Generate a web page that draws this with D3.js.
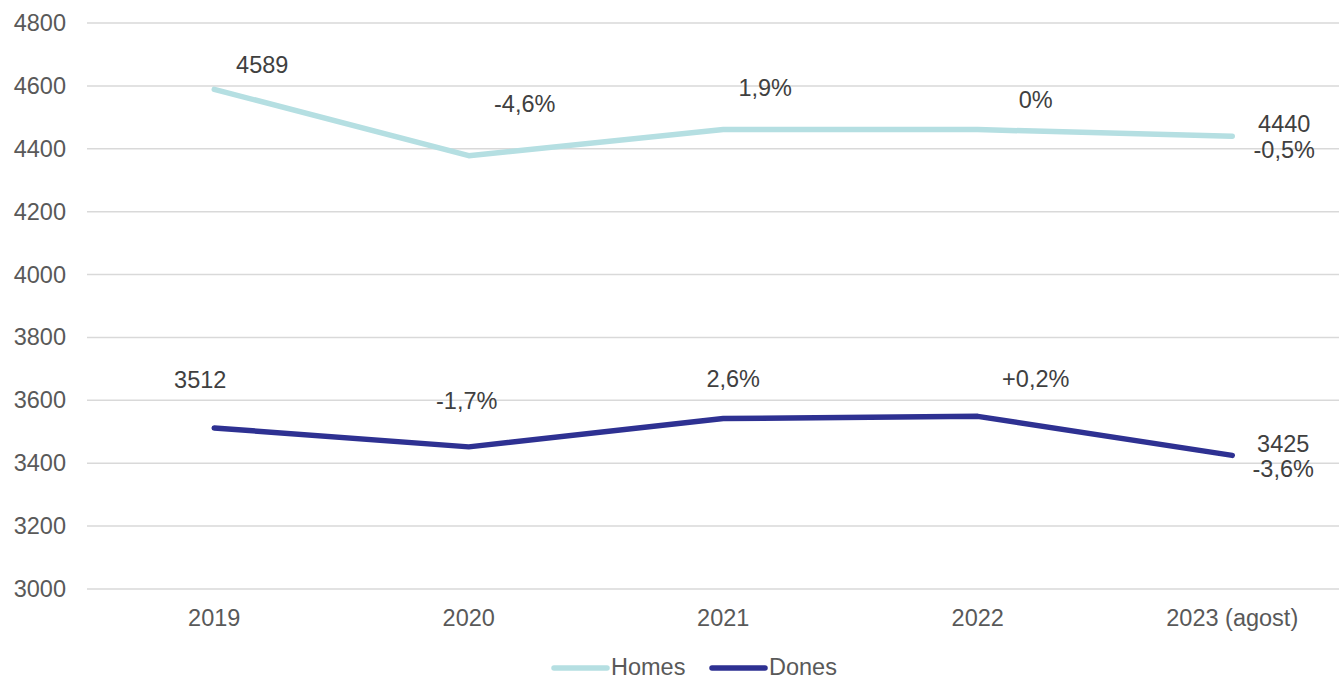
<!DOCTYPE html>
<html>
<head>
<meta charset="utf-8">
<script src="https://cdn.jsdelivr.net/npm/d3@7"></script>
<style>
  html, body { margin: 0; padding: 0; background: #fff; }
  svg { display: block; font-family: "Liberation Sans", Arial, sans-serif; }
  .tick-label { fill: #595959; font-size: 23.5px; }
  .data-label { fill: #404040; font-size: 23.5px; }
  .grid-line { stroke: #d9d9d9; stroke-width: 1.5; }
  .line { fill: none; stroke-width: 5.5; stroke-linejoin: round; stroke-linecap: round; }
</style>
</head>
<body>
<svg id="chart"></svg>
<script>
const years = ["2019", "2020", "2021", "2022", "2023 (agost)"];
const homes = [4589, 4378, 4461, 4461, 4440];
const dones = [3512, 3452, 3542, 3549, 3425];
const homesLabels = [["4589"], ["-4,6%"], ["1,9%"], ["0%"], ["4440", "-0,5%"]];
const donesLabels = [["3512"], ["-1,7%"], ["2,6%"], ["+0,2%"], ["3425", "-3,6%"]];
const yTicks = [3000, 3200, 3400, 3600, 3800, 4000, 4200, 4400, 4600, 4800];

// label offsets from the data point (dx of centre, dy of first baseline)
const homesOffsets = [[48, -16], [56, -44], [42, -34], [58, -22], [52, -4]];
const donesOffsets = [[-14, -40], [-2, -38], [10, -32], [58, -29], [51, -3]];

const W = 1339, H = 680;
const m = { top: 23, bottom: 91, left: 87 };
const svg = d3.select("#chart").attr("width", W).attr("height", H);

const x = d3.scaleBand().domain(years).range([m.left, m.left + 5 * 254.5]);
const cx = (d) => x(d) + x.bandwidth() / 2;
const y = d3.scaleLinear().domain([3000, 4800]).range([H - m.bottom, m.top]);

svg.append("g").selectAll("line").data(yTicks).join("line")
  .attr("class", "grid-line")
  .attr("x1", m.left).attr("x2", W)
  .attr("y1", (d) => y(d)).attr("y2", (d) => y(d));

svg.append("g").selectAll("text").data(yTicks).join("text")
  .attr("class", "tick-label")
  .attr("x", 66).attr("y", (d) => y(d) + 8)
  .attr("text-anchor", "end").text((d) => d);

svg.append("g").selectAll("text").data(years).join("text")
  .attr("class", "tick-label")
  .attr("x", (d) => cx(d)).attr("y", H - m.bottom + 37)
  .attr("text-anchor", "middle").text((d) => d);

const series = [
  { name: "Homes", values: homes, labels: homesLabels, offsets: homesOffsets, color: "#b5dfe2", gap: 26 },
  { name: "Dones", values: dones, labels: donesLabels, offsets: donesOffsets, color: "#2e3192", gap: 25 },
];

const lineGen = d3.line().x((d, i) => cx(years[i])).y((d) => y(d));

series.forEach((s) => {
  svg.append("path").datum(s.values).attr("class", "line").attr("stroke", s.color).attr("d", lineGen);
  s.values.forEach((v, i) => {
    const t = svg.append("text").attr("class", "data-label").attr("text-anchor", "middle");
    s.labels[i].forEach((txt, j) => {
      t.append("tspan")
        .attr("x", cx(years[i]) + s.offsets[i][0])
        .attr("y", y(v) + s.offsets[i][1] + j * s.gap)
        .text(txt);
    });
  });
});

// legend
const lg = svg.append("g").attr("transform", "translate(552,668)");
series.forEach((s, i) => {
  const g = lg.append("g").attr("transform", `translate(${i * 158},0)`);
  g.append("line").attr("x1", 2).attr("x2", 55).attr("y1", 0).attr("y2", 0)
    .attr("stroke", s.color).attr("stroke-width", 5.5).attr("stroke-linecap", "round");
  g.append("text").attr("class", "tick-label").attr("x", 59).attr("y", 6.5).text(s.name);
});
</script>
</body>
</html>
